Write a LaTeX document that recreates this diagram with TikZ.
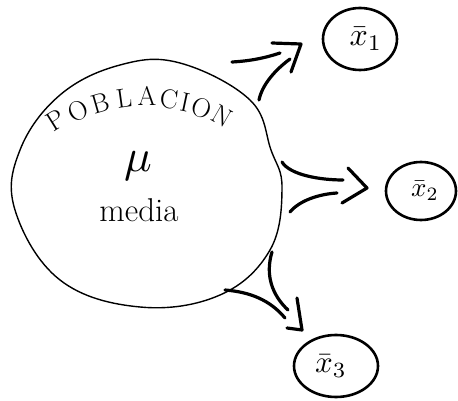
\documentclass[tikz,border=0pt]{standalone}
\usepackage{fontspec}
\usepackage{graphicx}
\usetikzlibrary{shapes.geometric}
\begin{document}
\begin{tikzpicture}[x=1pt,y=-1pt,
  bigline/.style={line width=1.4pt},
  smallc/.style={draw, ellipse, line width=2.6pt, inner sep=0pt},
  stroke/.style={line width=3.2pt, line cap=round, line join=round},
  lbl/.style={inner sep=0pt},
  ltr/.style={inner sep=0pt, font=\fontsize{27}{27}\selectfont}]
\useasboundingbox (0,0) rectangle (458,401);
% big population circle
\draw[bigline] plot[smooth cycle, tension=0.65] coordinates {
  (180,63) (250,100) (271,150) (282,188) (270,250) (220,295) (140,307)
  (60,280) (15,210) (20,150) (60,95) (120,65)};
% POBLACION, letter by letter along the arc
\node[ltr, rotate=32] (p1) at (56,120) {P};
\node[ltr, rotate=26] (p2) at (78,111) {O};
\node[ltr, rotate=16] (p3) at (100,103) {B};
\node[ltr, rotate=8]  (p4) at (124,98) {L};
\node[ltr, rotate=0]  (p5) at (147,96) {A};
\node[ltr, rotate=-6] (p6) at (169,99) {C};
\node[ltr, rotate=-12] (p7) at (185,102) {I};
\node[ltr, rotate=-20] (p8) at (202,108) {O};
\node[ltr, rotate=-30] (p9) at (222,116) {N};
\node[lbl, scale=4.6] (mu) at (138,166) {$\mu$};
\node[lbl, anchor=base] (media) at (139,222) {\fontsize{33}{33}\selectfont media};
% sample circles with their means
\node[smallc, minimum width=74pt, minimum height=62pt] (c1) at (360,39)
  {\hspace*{12pt}\raisebox{-4pt}{\scalebox{3.2}{$\bar{x}_1$}}};
\node[smallc, minimum width=70pt, minimum height=58pt] (c2) at (421,191)
  {\hspace*{8pt}\raisebox{0pt}{\scalebox{2.7}{$\bar{x}_2$}}};
\node[smallc, minimum width=84pt, minimum height=62pt] (c3) at (336,366)
  {\hspace*{-10pt}\raisebox{-6pt}{\scalebox{3.1}{$\bar{x}_3$}}};
% arrow to x1
\draw[stroke] (232,62) .. controls (250,61) and (265,58) .. (280,53);
\draw[stroke] (259,100) .. controls (262,85) and (275,70) .. (290,59);
\draw[stroke] (272,43) -- (301,44) -- (291,72);
% arrow to x2
\draw[stroke] (282,162) .. controls (290,175) and (320,180) .. (343,180);
\draw[stroke] (290,212) .. controls (300,200) and (320,194) .. (337,193);
\draw[stroke] (348,168) -- (367,188) -- (342,203);
% arrow to x3
\draw[stroke] (225,290) .. controls (250,292) and (270,300) .. (285,318);
\draw[stroke] (272,252) .. controls (265,275) and (272,295) .. (288,310);
\draw[stroke] (297,298) -- (302,330) -- (287,328);
\end{tikzpicture}
\end{document}
